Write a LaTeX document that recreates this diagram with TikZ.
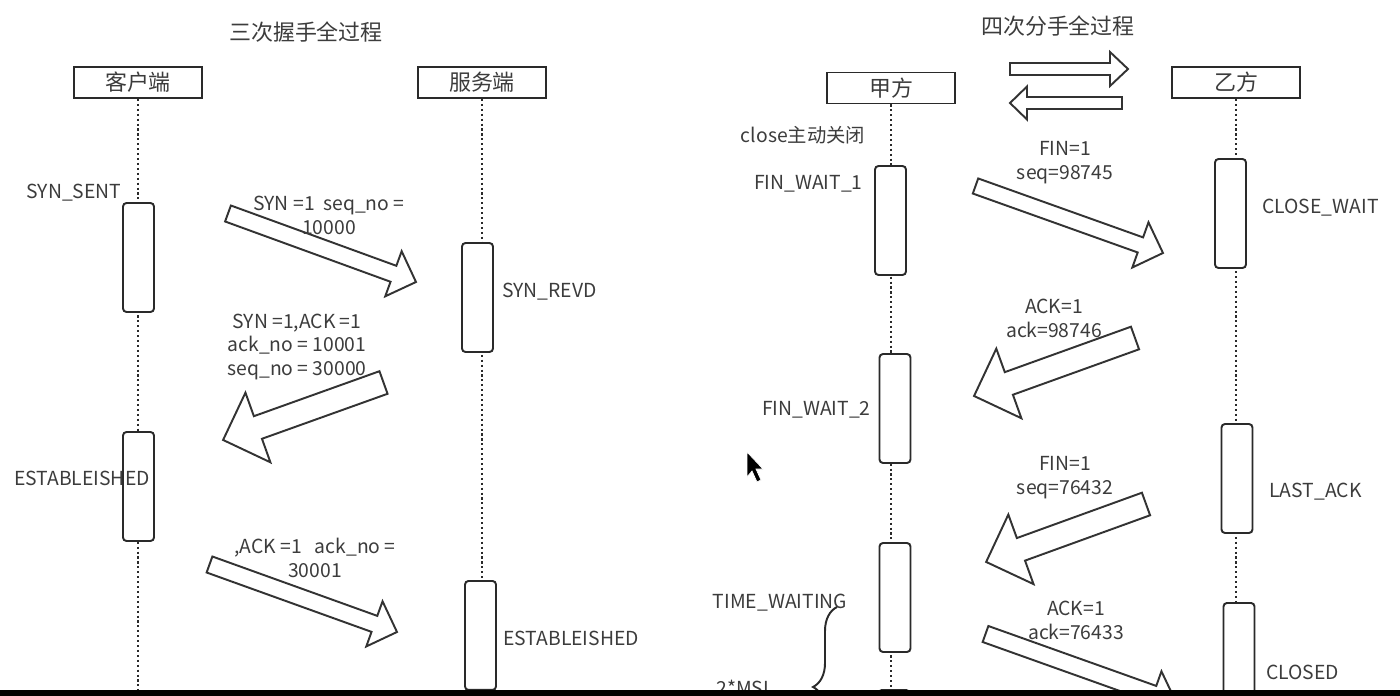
\documentclass[tikz,border=0pt]{standalone}
\usepackage{fontspec}
\setmainfont{Noto Sans CJK SC}
\usetikzlibrary{calc,decorations.pathreplacing}

\definecolor{boxgray}{HTML}{2A2A2A}
\definecolor{arrowgray}{HTML}{333333}
\definecolor{txtgray}{HTML}{3C3C3C}

\newcommand{\headfont}{\fontsize{12.5}{15}\selectfont}
\newcommand{\lblfont}{\fontsize{11}{13.6}\selectfont}

% block arrow: tail, tip, half shaft, half head, head length (px)
\newcommand{\blockarrow}[5]{%
  \draw[blockline] let \p1=(#1), \p2=(#2),
      \n1={veclen(\x2-\x1,\y2-\y1)}, \n2={atan2(\y2-\y1,\x2-\x1)} in
    [shift={(\p1)}, rotate=\n2]
    (0cm,#3*0.02cm) -- (\n1-#5*0.02cm,#3*0.02cm) -- (\n1-#5*0.02cm,#4*0.02cm)
    -- (\n1,0cm) -- (\n1-#5*0.02cm,-#4*0.02cm) -- (\n1-#5*0.02cm,-#3*0.02cm)
    -- (0cm,-#3*0.02cm) -- cycle;}

\tikzset{
  headbox/.style={rectangle, draw=boxgray, line width=1.1pt, text=txtgray,
    minimum width=2.56cm, minimum height=0.62cm, inner sep=0pt, font=\headfont},
  actbox/.style={rectangle, rounded corners=2pt, draw=boxgray, fill=white,
    line width=1.1pt, minimum width=0.62cm, minimum height=2.18cm, inner sep=0pt},
  lifeline/.style={draw=boxgray, line width=1.1pt, dash pattern=on 1.2pt off 1.6pt},
  blockline/.style={draw=arrowgray, line width=1.1pt, line join=miter},
  lbl/.style={text=txtgray, font=\lblfont, inner sep=0pt, align=center},
  ttl/.style={text=txtgray, font=\headfont, inner sep=0pt}
}

\begin{document}
\begin{tikzpicture}[x=0.02cm, y=-0.02cm]

  \fill[white] (0,0) rectangle (1400,696);
  \useasboundingbox (0,0) rectangle (1400,696);

  %% three-way handshake
  \node[ttl] (ttlsyn) at (306,32) {三次握手全过程};

  \node[headbox] (client) at (138,82.5) {客户端};
  \node[headbox] (server) at (482,82.5) {服务端};

  \coordinate (clientend) at (138,700);
  \coordinate (serverend) at (482,700);
  \draw[lifeline] (client.south) -- (clientend);
  \draw[lifeline] (server.south) -- (serverend);

  \node[actbox] (cact1) at (138.5,257.5) {};
  \node[actbox] (cact2) at (138.5,486.5) {};
  \node[actbox] (sact1) at (477.5,297.5) {};
  \node[actbox, anchor=north] (sact2) at (480.5,580) {};

  \coordinate (syntail) at (228,213.5);
  \coordinate (syntip) at (416,282);
  \coordinate (synacktail) at (383.5,382.5);
  \coordinate (synacktip) at (223,440);
  \coordinate (acktail) at (209.5,564.5);
  \coordinate (acktip) at (397,632);
  \blockarrow{syntail}{syntip}{8.5}{24}{24}
  \blockarrow{synacktail}{synacktip}{12}{37}{37}
  \blockarrow{acktail}{acktip}{8.5}{24}{24}

  \node[lbl] (synsent) at (74,193) {SYN\_SENT};
  \node[lbl] (synlbl) at (329,215) {SYN =1\ \ seq\_no =\\10000};
  \node[lbl, anchor=west] (synrevd) at (502,292) {SYN\_REVD};
  \node[lbl] (synacklbl) at (297,347) {SYN =1,ACK =1\\ack\_no = 10001\\seq\_no = 30000};
  \node[lbl] (cestab) at (82,478) {ESTABLEISHED};
  \node[lbl] (acklbl) at (315,558) {,ACK =1\ \ \ ack\_no =\\30001};
  \node[lbl, anchor=west] (sestab) at (503,638) {ESTABLEISHED};

  %% four-way close
  \node[ttl] (ttlfin) at (1058,26) {四次分手全过程};

  \coordinate (ltail) at (1010,69);
  \coordinate (ltip) at (1128,69);
  \coordinate (rtail) at (1122,103);
  \coordinate (rtip) at (1010,103);
  \blockarrow{ltail}{ltip}{6}{17}{18}
  \blockarrow{rtail}{rtip}{6}{16.5}{17}

  \node[headbox] (jia) at (891,88) {甲方};
  \node[headbox] (yi) at (1236,82.5) {乙方};

  \coordinate (jiaend) at (891,700);
  \coordinate (yiend) at (1236,700);
  \draw[lifeline] (jia.south) -- (jiaend);
  \draw[lifeline] (yi.south) -- (yiend);

  \node[actbox] (aact1) at (890.5,220.5) {};
  \node[actbox] (aact2) at (895,408.5) {};
  \node[actbox] (aact3) at (895,597.5) {};
  \node[actbox, anchor=north] (aact4) at (894,689) {};
  \node[actbox] (bact1) at (1230.5,213.5) {};
  \node[actbox] (bact2) at (1237,478.5) {};
  \node[actbox, anchor=north] (bact3) at (1239,602) {};

  \coordinate (fintail) at (975.5,186);
  \coordinate (fintip) at (1163,253);
  \coordinate (ackatail) at (1135,338);
  \coordinate (ackatip) at (974,396);
  \coordinate (finbtail) at (1146,504);
  \coordinate (finbtip) at (986,562);
  \coordinate (ackbtail) at (985.5,634);
  \coordinate (ackbtip) at (1176,702);
  \blockarrow{fintail}{fintip}{8}{24}{24}
  \blockarrow{ackatail}{ackatip}{12}{37}{37}
  \blockarrow{finbtail}{finbtip}{12}{37}{37}
  \blockarrow{ackbtail}{ackbtip}{8.5}{24}{24}

  \node[lbl] (closelbl) at (803,135) {close主动关闭};
  \node[lbl, anchor=east] (finw1) at (863,184) {FIN\_WAIT\_1};
  \node[lbl, anchor=west] (closew) at (1262,208) {CLOSE\_WAIT};
  \node[lbl] (finalbl) at (1065,163) {FIN=1\\seq=98745};
  \node[lbl] (ackalbl) at (1054,318) {ACK=1\\ack=98746};
  \node[lbl, anchor=east] (finw2) at (871,410) {FIN\_WAIT\_2};
  \node[lbl, anchor=west] (lastack) at (1269,492) {LAST\_ACK};
  \node[lbl] (finblbl) at (1065,478) {FIN=1\\seq=76432};
  \node[lbl] (timew) at (780,603) {TIME\_WAITING};
  \node[lbl] (ackblbl) at (1076,620) {ACK=1\\ack=76433};
  \node[lbl, anchor=west] (closed) at (1266,672) {CLOSED};
  \node[lbl] (msl) at (745,688) {2*MSL};

  \coordinate (bracelo) at (837,767);
  \coordinate (bracehi) at (837,607);
  \draw[boxgray, line width=1.1pt,
        decorate, decoration={brace, amplitude=0.48cm}] (bracelo) -- (bracehi);

  % mouse pointer
  \filldraw[black, draw=white, line width=0.4pt]
    (747,452) -- (747,477) -- (752,471) -- (757,482) -- (761,480)
    -- (756,469) -- (763,469) -- cycle;

  % bottom bar
  \fill[black] (0,690) rectangle (1400,696);

\end{tikzpicture}
\end{document}
